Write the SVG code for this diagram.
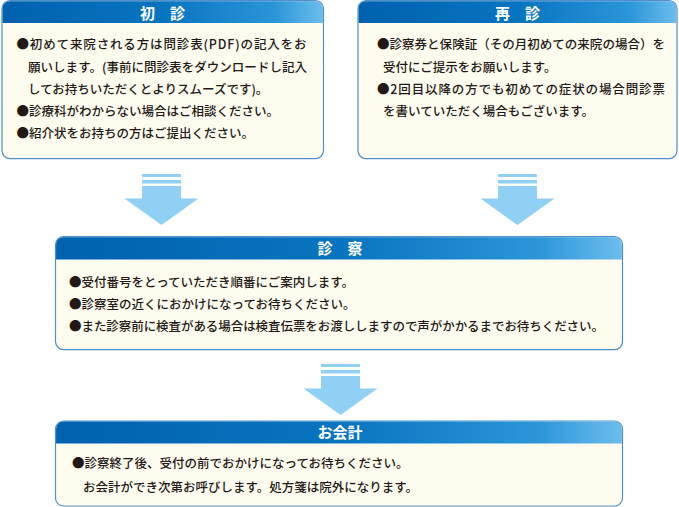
<svg xmlns="http://www.w3.org/2000/svg" width="679" height="507" viewBox="0 0 679 507">
<style>
.body{fill:#fefcee;stroke:#4f8fcb;stroke-width:1.2}
.hdr{fill:url(#hg)}
.title{font-family:"Noto Sans CJK JP","Noto Sans",sans-serif;font-size:15px;font-weight:bold;fill:#ffffff;text-anchor:middle}
.t{font-family:"Noto Sans CJK JP","Noto Sans",sans-serif;font-size:12.5px;font-weight:500;fill:#231815}
.arr{fill:#8fd0f4}
</style>
<defs>
<linearGradient id="hg" x1="0" y1="0" x2="1" y2="0">
<stop offset="0" stop-color="#0062ae"/>
<stop offset="0.5" stop-color="#0874c0"/>
<stop offset="0.85" stop-color="#2b95d8"/>
<stop offset="1" stop-color="#6cbdec"/>
</linearGradient>
<g id="arrow">
<rect class="arr" x="-19.5" y="0" width="39" height="3"/>
<rect class="arr" x="-19.5" y="6" width="39" height="3.5"/>
<polygon class="arr" points="-19.5,12 19.5,12 19.5,24.5 37,24.5 0,51 -37,24.5 -19.5,24.5"/>
</g>
</defs>

<g id="connectors">
<use href="#arrow" x="161.5" y="174"/>
<use href="#arrow" x="517.5" y="174"/>
<use href="#arrow" x="340.5" y="364"/>
</g>

<g id="shoshin">
<rect class="body" x="2" y="0.6" width="321.5" height="158" rx="8"/>
<path class="hdr" d="M2.6,23 V8.6 A7.4,7.4 0 0 1 10,1.2 H315.5 A7.4,7.4 0 0 1 322.9,8.6 V23 Z"/>
<text class="title" x="162.5" y="18.5">初　診</text>
<text class="t" x="16.5" y="49" textLength="290" lengthAdjust="spacing">●初めて来院される方は問診表(PDF)の記入をお</text>
<text class="t" x="28" y="71.5" textLength="279" lengthAdjust="spacing">願いします。(事前に問診表をダウンロードし記入</text>
<text class="t" x="28" y="93.5">してお持ちいただくとよりスムーズです)。</text>
<text class="t" x="16.5" y="115.5">●診療科がわからない場合はご相談ください。</text>
<text class="t" x="16.5" y="137.5">●紹介状をお持ちの方はご提出ください。</text>
</g>

<g id="saishin">
<rect class="body" x="358" y="0.6" width="319" height="158" rx="8"/>
<path class="hdr" d="M358.6,23 V8.6 A7.4,7.4 0 0 1 366,1.2 H669 A7.4,7.4 0 0 1 676.4,8.6 V23 Z"/>
<text class="title" x="517.5" y="18.5">再　診</text>
<text class="t" x="377" y="49" textLength="288" lengthAdjust="spacing">●診察券と保険証（その月初めての来院の場合）を</text>
<text class="t" x="383" y="71.5">受付にご提示をお願いします。</text>
<text class="t" x="377" y="93.5" textLength="288" lengthAdjust="spacing">●2回目以降の方でも初めての症状の場合問診票</text>
<text class="t" x="383" y="115.5">を書いていただく場合もございます。</text>
</g>

<g id="shinsatsu">
<rect class="body" x="55.5" y="236.6" width="567" height="113" rx="8"/>
<path class="hdr" d="M56.1,259.5 V244.6 A7.4,7.4 0 0 1 63.5,237.2 H614.5 A7.4,7.4 0 0 1 621.9,244.6 V259.5 Z"/>
<text class="title" x="340" y="254">診　察</text>
<text class="t" x="69" y="286.5">●受付番号をとっていただき順番にご案内します。</text>
<text class="t" x="69" y="308.5">●診察室の近くにおかけになってお待ちください。</text>
<text class="t" x="69" y="330.5" textLength="535" lengthAdjust="spacing">●また診察前に検査がある場合は検査伝票をお渡ししますので声がかかるまでお待ちください。</text>
</g>

<g id="okaikei">
<rect class="body" x="55.5" y="421" width="567" height="85" rx="8"/>
<path class="hdr" d="M56.1,443.5 V429 A7.4,7.4 0 0 1 63.5,421.6 H614.5 A7.4,7.4 0 0 1 621.9,429 V443.5 Z"/>
<text class="title" x="340" y="438">お会計</text>
<text class="t" x="72" y="467.5">●診察終了後、受付の前でおかけになってお待ちください。</text>
<text class="t" x="83" y="491.5">お会計ができ次第お呼びします。処方箋は院外になります。</text>
</g>
</svg>
